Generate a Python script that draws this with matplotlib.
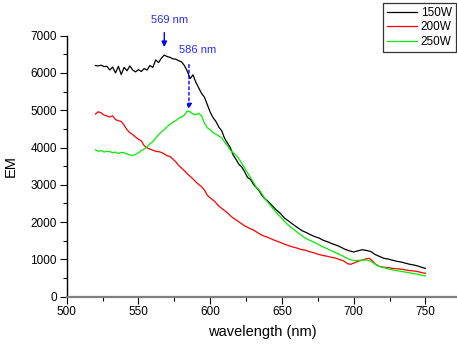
import matplotlib
matplotlib.use("Agg")
import matplotlib.pyplot as plt
from matplotlib.ticker import MultipleLocator

plt.rcParams['font.family'] = ['Liberation Sans', 'DejaVu Sans']

wl_150 = [520,522,524,526,528,530,532,534,536,538,540,542,544,546,548,550,552,554,556,558,560,562,564,566,568,570,572,574,576,578,580,582,584,586,588,590,592,594,596,598,600,602,604,606,608,610,612,614,616,618,620,622,624,626,628,630,632,634,636,638,640,643,646,649,652,655,658,661,664,667,670,673,676,679,682,685,688,691,694,697,700,703,706,709,712,715,718,721,724,727,730,733,736,739,742,745,748,750]
em_150 = [6200,6190,6210,6170,6180,6080,6160,6000,6180,5960,6150,6060,6190,6080,6030,6090,6040,6120,6080,6200,6150,6350,6280,6400,6480,6440,6420,6380,6370,6330,6300,6200,6050,5850,5950,5750,5600,5450,5350,5150,4950,4800,4700,4550,4450,4250,4120,4000,3800,3680,3550,3480,3350,3200,3150,3020,2930,2850,2720,2630,2570,2450,2330,2230,2100,2020,1930,1850,1770,1720,1660,1610,1570,1510,1470,1420,1380,1330,1270,1230,1200,1230,1260,1240,1210,1130,1080,1030,1010,980,950,930,900,870,850,820,780,760]

wl_200 = [520,522,524,526,528,530,532,534,536,538,540,542,544,546,548,550,552,554,556,558,560,562,564,566,568,570,572,574,576,578,580,582,584,586,588,590,592,594,596,598,600,603,606,609,612,615,618,621,624,627,630,633,636,639,642,645,648,651,654,657,660,663,666,669,672,675,678,681,684,687,690,693,696,698,700,703,706,709,711,713,715,718,721,724,727,730,733,736,739,742,745,748,750]
em_200 = [4900,4960,4930,4870,4850,4820,4850,4750,4720,4700,4600,4480,4400,4350,4280,4220,4180,4050,3990,3960,3930,3900,3890,3870,3830,3780,3760,3690,3620,3520,3450,3380,3300,3230,3160,3080,3010,2950,2860,2720,2650,2560,2430,2340,2250,2140,2060,1980,1900,1840,1790,1720,1650,1610,1560,1510,1470,1420,1380,1340,1310,1270,1250,1210,1180,1140,1110,1090,1060,1040,1000,960,880,870,900,950,980,1020,1030,960,880,810,790,780,760,750,740,720,700,690,670,640,630]

wl_250 = [520,522,524,526,528,530,532,534,536,538,540,542,544,546,548,550,552,554,556,558,560,562,564,566,568,570,572,574,576,578,580,582,584,586,588,590,592,594,596,598,600,602,604,606,608,610,612,614,616,618,620,622,624,626,628,630,632,634,636,638,640,643,646,649,652,655,658,661,664,667,670,673,676,679,682,685,688,691,694,697,700,703,706,709,712,715,718,721,724,727,730,733,736,739,742,745,748,750]
em_250 = [3940,3900,3920,3880,3900,3890,3860,3880,3840,3870,3860,3830,3800,3790,3820,3860,3920,3960,4020,4100,4160,4250,4350,4420,4480,4560,4620,4680,4720,4780,4820,4870,4980,4960,4900,4880,4920,4850,4650,4530,4480,4400,4360,4310,4260,4150,4050,3930,3860,3800,3700,3580,3450,3320,3200,3080,2940,2870,2760,2640,2540,2400,2260,2140,2010,1900,1810,1720,1630,1560,1500,1450,1390,1330,1280,1220,1170,1120,1060,1000,970,975,980,985,950,870,810,780,750,720,700,680,660,640,620,600,570,555]

series_labels = ["150W", "200W", "250W"]
x_ticks = [500, 550, 600, 650, 700, 750]
y_ticks = [0, 1000, 2000, 3000, 4000, 5000, 6000, 7000]

fig = plt.figure(figsize=(4.57, 3.45), dpi=100)
ax = fig.add_axes([0.146, 0.14, 0.854, 0.7565])

l1, = ax.plot(wl_150, em_150, color='black', lw=0.9)
l2, = ax.plot(wl_200, em_200, color='#ff0000', lw=0.9)
l3, = ax.plot(wl_250, em_250, color='#00ee00', lw=0.9)

ax.set_xlim(500, 772)
ax.set_ylim(0, 7000)
ax.set_xticks(x_ticks)
ax.set_yticks(y_ticks)
ax.xaxis.set_minor_locator(MultipleLocator(25))
ax.yaxis.set_minor_locator(MultipleLocator(500))
ax.tick_params(axis='both', which='major', direction='out', length=5, width=0.8, labelsize=8.5, pad=2, colors='black')
ax.tick_params(axis='both', which='minor', direction='out', length=3, width=0.8)
for s in ['top', 'right']:
    ax.spines[s].set_visible(False)
ax.spines['left'].set_linewidth(1.0)
ax.spines['bottom'].set_color('#808080')
ax.spines['bottom'].set_linewidth(1.6)

ax.set_xlabel('wavelength (nm)', fontsize=10.5, labelpad=5)
ax.set_ylabel('EM', fontsize=10.5, labelpad=9)

blue = '#2a2aff'
ax.annotate('', xy=(568, 6620), xytext=(568, 7160),
            arrowprops=dict(arrowstyle='-|>', color='#0000ff', lw=1.0, mutation_scale=8),
            annotation_clip=False)
ax.text(572, 7420, '569 nm', color=blue, fontsize=8, ha='center', va='center', clip_on=False)
ax.annotate('', xy=(585.2, 4950), xytext=(585.2, 6300),
            arrowprops=dict(arrowstyle='-|>', color='#0000ff', lw=1.0, ls=(0, (2, 2)), mutation_scale=8),
            annotation_clip=False)
ax.text(591, 6620, '586 nm', color=blue, fontsize=8, ha='center', va='center')

leg = fig.legend([l1, l2, l3], series_labels, loc='upper left',
                 bbox_to_anchor=(383/457, 1 - 3/345), fontsize=8.5,
                 frameon=True, fancybox=False, handlelength=2.5, handletextpad=0.35,
                 borderpad=0.35, labelspacing=0.2, borderaxespad=0)
leg.get_frame().set_edgecolor('black')
leg.get_frame().set_linewidth(0.9)

fig.savefig('out.png', dpi=100)
